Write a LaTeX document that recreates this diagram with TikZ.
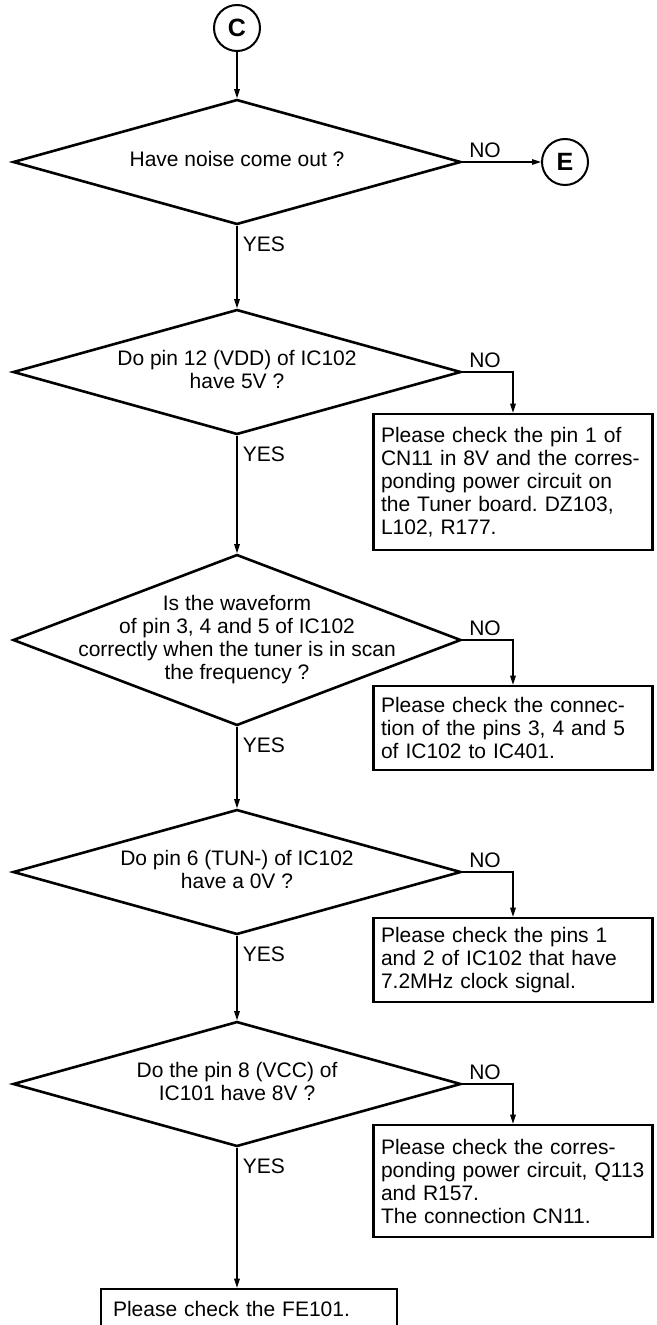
\documentclass[tikz,border=0pt]{standalone}
\usepackage{fontspec}
\setmainfont{Liberation Sans}
\usetikzlibrary{arrows.meta,positioning,shapes.geometric}
\frenchspacing
\newcommand{\qtext}[1]{\makebox[0pt]{\begin{tabular}{@{}c@{}}#1\end{tabular}}}

\begin{document}
\begin{tikzpicture}[x=1pt,y=-1pt,every node/.style={font=\fontsize{21}{23}\selectfont},
    decision/.style={diamond,draw,line width=2.6pt,inner sep=0pt,minimum width=448pt,minimum height=125pt},
    hint/.style={rectangle,draw,line width=2.6pt,text width=264pt,align=left,inner xsep=7.5pt,inner ysep=0pt},
    conn/.style={circle,draw,line width=2pt,minimum size=46pt,inner sep=0pt,font=\fontsize{25}{25}\selectfont\bfseries},
    flow/.style={line width=1.3pt,-{Triangle[length=9pt,width=5.5pt]}},
    yes/.style={anchor=north west,xshift=2pt,yshift=-7pt},
    no/.style={anchor=south west,xshift=3pt}]
  \useasboundingbox (0,0) rectangle (656,1325);
  % connecteurs
  \node[conn] (c) at (237,28) {C};
  \node[conn] (e) at (565,162) {E};
  % questions
  \node[decision] (d1) at (237,162) {\qtext{Have noise come out ?}};
  \node[decision] (d2) at (237,372) {\qtext{Do pin 12 (VDD) of IC102\\have 5V ?}};
  \node[decision,minimum height=171pt] (d3) at (237,640) {\qtext{Is the waveform\\of pin 3, 4 and 5 of IC102\\correctly when the tuner is in scan\\the frequency ?}};
  \node[decision] (d4) at (237,872) {\qtext{Do pin 6 (TUN-) of IC102\\have a 0V ?}};
  \node[decision] (d5) at (237,1084) {\qtext{Do the pin 8 (VCC) of\\IC101 have 8V ?}};
  % actions
  \node[hint,minimum height=136pt] (n1) at (513,482) {Please check the pin 1 of\\CN11 in 8V and the corres-\\ponding power circuit on\\the Tuner board. DZ103,\\L102, R177.};
  \node[hint,minimum height=84pt] (n2) at (513,728) {Please check the connec-\\tion of the pins 3, 4 and 5\\of IC102 to IC401.};
  \node[hint,minimum height=84pt] (n3) at (513,960) {Please check the pins 1\\and 2 of IC102 that have\\7.2MHz clock signal.};
  \node[hint,minimum height=112pt] (n4) at (513,1181) {Please check the corres-\\ponding power circuit, Q113\\and R157.\\The connection CN11.};
  \node[hint,text width=272pt,inner xsep=12pt,minimum height=40pt] (n5) at (249,1309) {Please check the FE101.};
  % fleches
  \draw[flow] (c) -- (d1);
  \draw[flow] (d1) -- node[no,pos=0] {NO} (e);
  \draw[flow] (d1) -- node[yes,pos=0] {YES} (d2);
  \draw[flow] (d2.east) -| node[no,pos=0] {NO} (n1.north);
  \draw[flow] (d2) -- node[yes,pos=0] {YES} (d3);
  \draw[flow] (d3.east) -| node[no,pos=0] {NO} (n2.north);
  \draw[flow] (d3) -- node[yes,pos=0] {YES} (d4);
  \draw[flow] (d4.east) -| node[no,pos=0] {NO} (n3.north);
  \draw[flow] (d4) -- node[yes,pos=0] {YES} (d5);
  \draw[flow] (d5.east) -| node[no,pos=0] {NO} (n4.north);
  \draw[flow] (d5) -- node[yes,pos=0] {YES} (d5.south |- n5.north);
\end{tikzpicture}
\end{document}
